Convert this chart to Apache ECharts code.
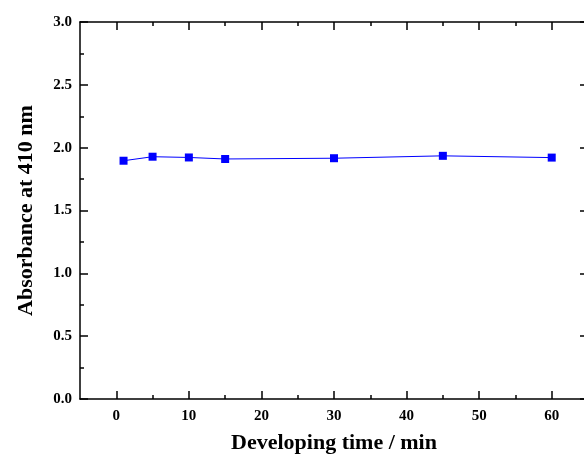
<!DOCTYPE html>
<html><head><meta charset="utf-8">
<script src="https://cdn.jsdelivr.net/npm/echarts@6/dist/echarts.min.js"></script>
<style>html,body{margin:0;padding:0;background:#fff}#c{width:584px;height:454px}</style>
</head><body><div id="c"></div>
<script>
const times = [1, 5, 10, 15, 30, 45, 60];
const absorbance = [1.896, 1.928, 1.922, 1.910, 1.916, 1.935, 1.921];
const xMajorTicks = [0, 10, 20, 30, 40, 50, 60];
const xMinorTicks = [5, 15, 25, 35, 45, 55];
const xTitle = 'Developing time / min';
const yTitle = 'Absorbance at 410 nm';

const FONT = "'Liberation Serif', 'Times New Roman', serif";
const lineStyle = {color: '#000', width: 1.5};
function xAx(pos, ticks, len, showLine, showLabel) {
  return {
    type: 'value', position: pos, min: -5, max: 65,
    axisLine: {show: showLine, onZero: false, lineStyle},
    axisTick: {show: true, inside: true, length: len, customValues: ticks, lineStyle},
    axisLabel: {show: showLabel, customValues: ticks, margin: 10, color: '#000',
      fontFamily: FONT, fontWeight: 'bold', fontSize: 15},
    splitLine: {show: false},
    name: showLabel ? xTitle : '', nameLocation: 'middle', nameGap: 33,
    nameTextStyle: {fontFamily: FONT, fontWeight: 'bold', fontSize: 22, color: '#000'}
  };
}
function yAx(pos, showLabel) {
  return {
    type: 'value', position: pos, min: 0, max: 3, interval: 0.5,
    axisLine: {show: true, onZero: false, lineStyle},
    axisTick: {show: true, inside: true, length: 8, lineStyle},
    minorTick: {show: true, splitNumber: 2, length: 4, lineStyle},
    axisLabel: {show: showLabel, margin: 8, color: '#000', formatter: v => v.toFixed(1),
      fontFamily: FONT, fontWeight: 'bold', fontSize: 15},
    splitLine: {show: false}, minorSplitLine: {show: false},
    name: showLabel ? yTitle : '', nameLocation: 'middle', nameGap: 43, nameRotate: 90,
    nameTextStyle: {fontFamily: FONT, fontWeight: 'bold', fontSize: 22, color: '#000'}
  };
}
const chart = echarts.init(document.getElementById('c'), null, {renderer: 'canvas'});
chart.setOption({
  animation: false,
  backgroundColor: '#fff',
  grid: {left: 80, top: 22, width: 508, height: 377, containLabel: false, outerBoundsMode: 'none'},
  xAxis: [
    xAx('bottom', xMajorTicks, 8, true, true),
    xAx('bottom', xMinorTicks, 4, false, false),
    xAx('top', xMajorTicks, 8, true, false),
    xAx('top', xMinorTicks, 4, false, false)
  ],
  yAxis: [yAx('left', true), yAx('right', false)],
  series: [{
    type: 'line', xAxisIndex: 0, yAxisIndex: 0,
    data: times.map((t, i) => [t, absorbance[i]]),
    symbol: 'rect', symbolSize: 8,
    lineStyle: {color: '#0000ff', width: 1},
    itemStyle: {color: '#0000ff'}
  }]
});
</script></body></html>
